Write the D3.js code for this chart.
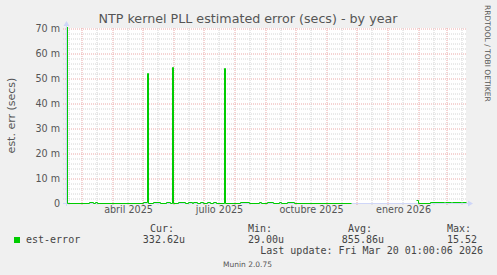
<!DOCTYPE html>
<html lang="es">
<head>
<meta charset="UTF-8">
<title>NTP kernel PLL estimated error - by year</title>
<style>
  body { margin: 0; background: #F0F0F0; }
  svg { display: block; }
  text { font-family: "DejaVu Sans", sans-serif; fill: #555; }
  .mono { font-family: "DejaVu Sans Mono", monospace; fill: #444; }
</style>
</head>
<body>
<script src="https://cdn.jsdelivr.net/npm/d3@7"></script>
<script>
// est-error samples (milliseconds)
const sampleDates = [
  "2025-02-14","2025-02-15","2025-03-09","2025-03-13","2025-03-15","2025-03-17",
  "2025-05-02","2025-05-06","2025-05-07","2025-05-12","2025-05-19","2025-05-25",
  "2025-05-29","2025-05-31","2025-06-01","2025-06-06","2025-06-13","2025-06-16",
  "2025-06-20","2025-06-21","2025-06-25","2025-06-28","2025-07-01","2025-07-05",
  "2025-07-08","2025-07-11","2025-07-14","2025-07-22","2025-07-23","2025-08-07",
  "2025-08-16","2025-08-26","2025-08-28","2025-09-03","2025-09-09","2025-09-15",
  "2025-09-17","2025-09-23","2025-09-30","2025-11-26","2025-11-27","2026-01-30",
  "2026-02-01","2026-02-13","2026-02-27","2026-02-28","2026-03-06","2026-03-07",
  "2026-03-16","2026-03-17","2026-03-21"
];
const errorMs = [
  15520, 0.2, 0.6, 0.2, 0.6, 0.2,
  0.6, 52, 0.2, 0.6, 0.2, 0.6,
  0.2, 54.5, 0.2, 0.6, 0.2, 0.6,
  0.2, 0.6, 0.2, 0.6, 0.2, 0.6,
  0.2, 0.6, 0.2, 54, 0.2, 0.6,
  0.2, 0.6, 0.2, 0.6, 0.2, 0.6,
  0.2, 0.6, 0.2, 0.2, null, 1.2,
  0.2, 0.6, 0.3, 0.6, 0.3, 0.6,
  0.3, 0.6, 0.33
];

const timeRange = ["2025-02-14", "2026-03-21"];
const yTicks = [0, 10, 20, 30, 40, 50, 60, 70];
const yTickLabels = ["0", "10 m", "20 m", "30 m", "40 m", "50 m", "60 m", "70 m"];
const xLabelMonths = ["2025-04-01", "2025-07-01", "2025-10-01", "2026-01-01"];
const xTickLabels = ["abril 2025", "julio 2025", "octubre 2025", "enero 2026"];

const legendName = "est-error";
const legendHeads = ["Cur:", "Min:", "Avg:", "Max:"];
const legendValues = ["332.62u", "29.00u", "855.86u", "15.52"];

const W = 497, H = 275;
const pLeft = 66, pRight = 466, pTop = 28, pBottom = 203;
const parse = d3.utcParse("%Y-%m-%d");

const svg = d3.select("body").append("svg")
  .attr("width", W).attr("height", H);

svg.append("rect").attr("width", W).attr("height", H).attr("fill", "#F0F0F0");
svg.append("rect")
  .attr("x", pLeft).attr("y", pTop)
  .attr("width", pRight - pLeft).attr("height", pBottom - pTop)
  .attr("fill", "#FFFFFF");

const x = d3.scaleUtc().domain(timeRange.map(parse)).range([pLeft, pRight]);
const y = d3.scaleLinear().domain([0, 70]).range([pBottom, pTop]);

// horizontal grid
const minorY = d3.range(2, 70, 2).filter(v => v % 10 !== 0);
svg.append("g")
  .attr("transform", `translate(${pLeft - 3},0.5)`)
  .call(d3.axisLeft(y).tickValues(minorY).tickSize(-(pRight - pLeft + 3)).tickFormat(""))
  .call(g => g.select(".domain").remove())
  .call(g => g.selectAll("line").attr("stroke", "#D4D4D4").attr("stroke-dasharray", "1,1"));
svg.append("g")
  .attr("transform", `translate(${pLeft - 3},0.5)`)
  .call(d3.axisLeft(y).tickValues(yTicks.slice(1)).tickSize(-(pRight - pLeft + 3)).tickFormat(""))
  .call(g => g.select(".domain").remove())
  .call(g => g.selectAll("line").attr("stroke", "#EBA8A8").attr("stroke-dasharray", "1,1"));

// vertical grid: month starts (major), mid-month (minor)
const monthStarts = d3.utcMonth.range(parse(timeRange[0]), parse(timeRange[1]));
const midMonths = monthStarts.map(d => d3.utcDay.offset(d, 15))
  .concat([d3.utcDay.offset(d3.utcMonth.offset(monthStarts[0], -1), 15)])
  .filter(d => x(d) > pLeft && x(d) < pRight);
svg.append("g")
  .attr("transform", `translate(0.5,${pTop})`)
  .call(d3.axisBottom(x).tickValues(midMonths).tickSize(pBottom - pTop + 2).tickFormat(""))
  .call(g => g.select(".domain").remove())
  .call(g => g.selectAll("line").attr("stroke", "#D4D4D4").attr("stroke-dasharray", "1,1"));
svg.append("g")
  .attr("transform", `translate(0.5,${pTop})`)
  .call(d3.axisBottom(x).tickValues(monthStarts).tickSize(pBottom - pTop + 2).tickFormat(""))
  .call(g => g.select(".domain").remove())
  .call(g => g.selectAll("line").attr("stroke", "#EBA8A8").attr("stroke-dasharray", "1,1"));

// y tick labels
svg.append("g")
  .attr("transform", `translate(${pLeft - 6},0)`)
  .call(d3.axisLeft(y).tickValues(yTicks).tickSize(0).tickPadding(0)
    .tickFormat((d, i) => yTickLabels[i]))
  .call(g => g.select(".domain").remove())
  .call(g => g.selectAll("text").attr("font-size", "9.6px")
    .attr("font-family", "DejaVu Sans, sans-serif").attr("fill", "#555"));

// x tick labels, centred half a month after the quarter start
svg.append("g")
  .attr("transform", `translate(0,${pBottom + 3})`)
  .call(d3.axisBottom(x).tickValues(xLabelMonths.map(s => d3.utcDay.offset(parse(s), 16)))
    .tickSize(0).tickPadding(0).tickFormat((d, i) => xTickLabels[i]))
  .call(g => g.select(".domain").remove())
  .call(g => g.selectAll("text").attr("font-size", "9.6px")
    .attr("font-family", "DejaVu Sans, sans-serif").attr("fill", "#555"));

// axes with arrows
const axisColor = "#CFD6F8";
svg.append("line")
  .attr("x1", pLeft - 3).attr("x2", pRight + 3)
  .attr("y1", pBottom + 0.5).attr("y2", pBottom + 0.5)
  .attr("stroke", axisColor);
svg.append("path")
  .attr("d", `M${pRight + 2},${pBottom - 2.5}L${pRight + 7},${pBottom + 0.5}L${pRight + 2},${pBottom + 3.5}Z`)
  .attr("fill", axisColor);
svg.append("line")
  .attr("x1", pLeft + 0.5).attr("x2", pLeft + 0.5)
  .attr("y1", pBottom + 3).attr("y2", pTop - 3)
  .attr("stroke", axisColor);
svg.append("path")
  .attr("d", `M${pLeft - 2.5},${pTop - 2}L${pLeft + 0.5},${pTop - 7}L${pLeft + 3.5},${pTop - 2}Z`)
  .attr("fill", axisColor);

// data line, drawn over the axis like rrdtool does
const data = sampleDates.map((d, i) => ({ date: parse(d), value: errorMs[i] }));
svg.append("clipPath").attr("id", "plot")
  .append("rect").attr("x", pLeft).attr("y", pTop - 1)
  .attr("width", pRight - pLeft + 1).attr("height", pBottom - pTop + 2);
const line = d3.line()
  .defined(d => d.value !== null)
  .x(d => x(d.date) + 0.5)
  .y(d => Math.round(y(d.value)) + 0.5)
  .curve(d3.curveStepAfter);
svg.append("path")
  .datum(data)
  .attr("clip-path", "url(#plot)")
  .attr("fill", "none")
  .attr("stroke", "#00CC00")
  .attr("stroke-width", 1)
  .attr("d", line);

// title and labels
svg.append("text")
  .attr("x", 248).attr("y", 23)
  .attr("text-anchor", "middle")
  .attr("font-size", "12.7px")
  .attr("fill", "#555")
  .text("NTP kernel PLL estimated error (secs) - by year");

svg.append("text")
  .attr("transform", `translate(15,${(pTop + pBottom) / 2}) rotate(-90)`)
  .attr("text-anchor", "middle")
  .attr("font-size", "11px")
  .text("est. err (secs)");

svg.append("text")
  .attr("transform", "translate(485,5) rotate(90)")
  .attr("font-size", "7.5px")
  .attr("fill", "#C4C4C4")
  .text("RRDTOOL / TOBI OETIKER");

// legend
svg.append("rect")
  .attr("x", 14).attr("y", 237).attr("width", 6).attr("height", 6)
  .attr("fill", "#00CC00");
svg.append("text").attr("class", "mono")
  .attr("x", 26).attr("y", 243).attr("font-size", "10px")
  .text(legendName);

const headX = [150, 248, 348, 447];
const valueEnd = [185, 284, 384, 477];
svg.selectAll("text.head").data(legendHeads).join("text")
  .attr("class", "mono head")
  .attr("x", (d, i) => headX[i]).attr("y", 232)
  .attr("font-size", "10px")
  .text(d => d);
svg.selectAll("text.val").data(legendValues).join("text")
  .attr("class", "mono val")
  .attr("x", (d, i) => valueEnd[i]).attr("y", 243)
  .attr("text-anchor", "end")
  .attr("font-size", "10px")
  .text(d => d);

svg.append("text").attr("class", "mono")
  .attr("x", 483).attr("y", 254)
  .attr("text-anchor", "end")
  .attr("font-size", "10px")
  .text("Last update: Fri Mar 20 01:00:06 2026");

svg.append("text")
  .attr("x", 247.5).attr("y", 267)
  .attr("text-anchor", "middle")
  .attr("font-size", "7.5px")
  .attr("fill", "#BBBBBB")
  .text("Munin 2.0.75");
</script>
</body>
</html>
